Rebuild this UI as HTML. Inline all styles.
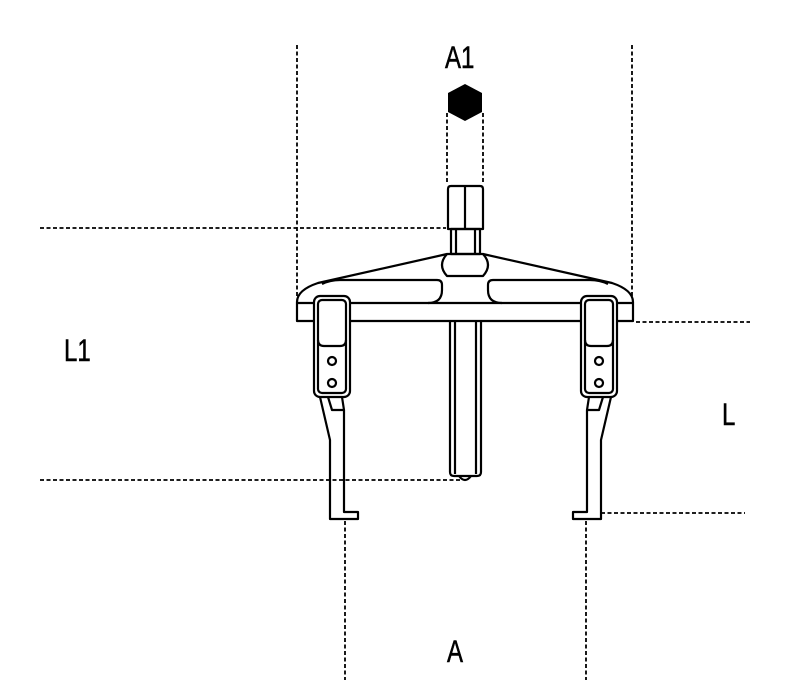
<!DOCTYPE html>
<html><head><meta charset="utf-8"><style>html,body{margin:0;padding:0;background:#fff}svg{display:block}</style></head>
<body>
<svg width="800" height="692" viewBox="0 0 800 692" xmlns="http://www.w3.org/2000/svg">
<g fill="none" stroke="#000" stroke-width="1.8" stroke-dasharray="4,2.5">
<line x1="297" y1="45" x2="297" y2="296"/>
<line x1="632" y1="45" x2="632" y2="296"/>
<line x1="447" y1="113" x2="447" y2="183"/>
<line x1="483" y1="113" x2="483" y2="183"/>
<line x1="40" y1="228" x2="446" y2="228"/>
<line x1="40" y1="480" x2="462" y2="480"/>
<line x1="636" y1="322" x2="750" y2="322"/>
<line x1="601" y1="513" x2="745" y2="513"/>
<line x1="345" y1="521" x2="345" y2="680"/>
<line x1="586" y1="521" x2="586" y2="680"/>
</g>
<polygon points="465,84 482,93 482,112 465,121 448,112 448,93" fill="#000"/>
<g fill="none" stroke="#000" stroke-width="2.2" stroke-linejoin="round">
<path d="M448,229 V189 Q448,186 451,186 H480 Q483,186 483,189 V229 Z"/>
<line x1="465" y1="187" x2="465" y2="229"/>
<rect x="451" y="229" width="29" height="25"/>
<line x1="456" y1="229" x2="456" y2="254"/>
<line x1="475" y1="229" x2="475" y2="254"/>
<path d="M297,321 V302 Q297,290 318,283 L447,254 H483 L612,283 Q633,290 633,302 V321 Z"/>
<line x1="297" y1="303" x2="633" y2="303"/>
<path d="M322,284 Q330,280 340,280 H437 Q442,280 442,285 V290 Q442,303 428,303"/>
<path d="M608,284 Q600,280 590,280 H493 Q488,280 488,285 V290 Q488,303 502,303"/>
<path d="M447,254 Q437,265 447,276 H483 Q493,265 483,254"/>
<path d="M450,321 V472 Q450,476 454,476 H477 Q481,476 481,472 V321"/>
<line x1="455" y1="321" x2="455" y2="474"/>
<line x1="476" y1="321" x2="476" y2="474"/>
<path d="M459,476 Q465,484 471,476"/>
<rect x="314" y="296" width="36" height="101" rx="6" fill="#fff"/>
<rect x="318" y="300" width="28" height="93" rx="4"/>
<path d="M318,340 Q318,346 324,346 H340 Q346,346 346,340"/>
<circle cx="332" cy="361" r="4"/>
<circle cx="332" cy="383" r="4"/>
<path d="M320,397 L330,440 V519 H358 V512 H344 V410 L342,397"/>
<path d="M328,397 L332,410 H344"/>
<rect x="581" y="296" width="36" height="101" rx="6" fill="#fff"/>
<rect x="585" y="300" width="28" height="93" rx="4"/>
<path d="M585,340 Q585,346 591,346 H607 Q613,346 613,340"/>
<circle cx="599" cy="361" r="4"/>
<circle cx="599" cy="383" r="4"/>
<path d="M611,397 L601,440 V519 H573 V512 H587 V410 L589,397"/>
<path d="M603,397 L599,410 H587"/>
</g>
<g font-family="Liberation Sans, sans-serif" font-size="24" fill="#000" stroke="#000" stroke-width="0.4">
<text transform="translate(445,68) scale(1,1.3)">A1</text>
<text transform="translate(64,361) scale(1,1.3)">L1</text>
<text transform="translate(722,425) scale(1,1.3)">L</text>
<text transform="translate(447,662) scale(1,1.3)">A</text>
</g>
</svg>
</body></html>
